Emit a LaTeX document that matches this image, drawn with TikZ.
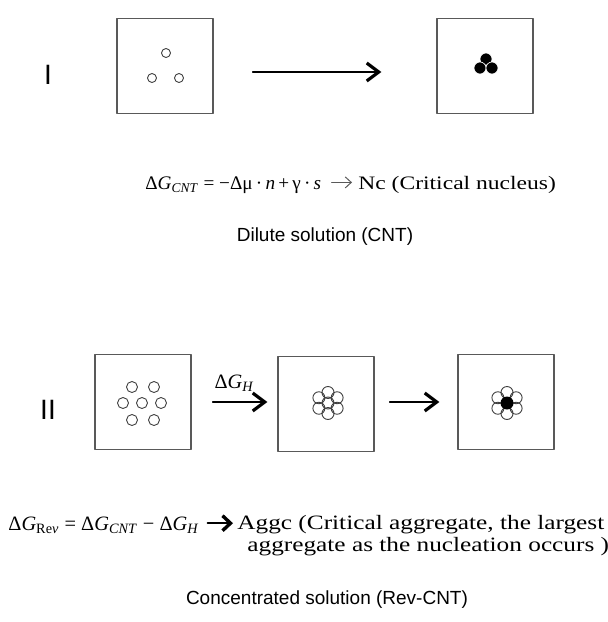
\documentclass[tikz,border=0pt]{standalone}
\usepackage{fontspec}
\setmainfont{Liberation Serif}
\setsansfont{Liberation Sans}
\newfontfamily\widefont[FakeStretch=1.24]{Liberation Serif}
\usetikzlibrary{arrows.meta}

\newcommand{\dG}[1]{Δ\textit{G}\textsubscript{#1}}

\begin{document}
\begin{tikzpicture}[x=0.5pt, y=-0.5pt, line cap=round, line join=round,
  box/.style={draw=black!65, line width=0.6pt, minimum width=48pt, minimum height=47.5pt, inner sep=0pt},
  flow/.style={line width=0.6pt, -{Straight Barb[length=6pt, width=9pt, line width=1.6pt]}},
  thinflow/.style={line width=0.4pt, black!65, -{Straight Barb[length=3pt, width=5.5pt, line width=0.5pt]}},
  boldflow/.style={line width=1.1pt, -{Straight Barb[length=4pt, width=7.5pt, line width=1.7pt]}},
  part/.style={draw=black!75, line width=0.45pt},
  roman/.style={font=\sffamily\fontsize{14}{14}\selectfont},
  eq/.style={font=\fontsize{10.2}{11}\selectfont, inner sep=0pt},
  eqsmall/.style={font=\fontsize{9.6}{11}\selectfont, inner sep=0pt},
  note/.style={font=\widefont\fontsize{9.5}{11}\selectfont, inner sep=0pt},
  notebig/.style={font=\widefont\fontsize{10.2}{11}\selectfont, inner sep=0pt},
  caption/.style={font=\sffamily\fontsize{9.5}{11}\selectfont}]

\useasboundingbox (0,0) rectangle (608,622);

% Row I: dilute solution
\node[roman] (labI) at (48,75) {I};
\node[box] (dilA) at (165,66) {};
\node[box] (dilB) at (485,66) {};
\draw[flow, shorten <=19.5pt, shorten >=27.5pt] ([yshift=-3pt]dilA.east) -- ([yshift=-3pt]dilB.west);

% free monomers
\foreach \p in {(166,53),(152,78),(179,78)}
  \draw[part] \p circle (4.5);
% critical nucleus
\foreach \p in {(486,59),(480,68),(492,68)}
  \filldraw[fill=black, draw=white, line width=0.3pt] \p circle (6);

% CNT equation
\node[eqsmall, anchor=base west] (cntEq) at (145,189)
  {\dG{\textit{CNT}} = −Δμ\,·\,\textit{n}\,+\,γ\,·\,\textit{s}};
\node[note, anchor=base west] (nuc) at (358,189) {Nc (Critical nucleus)};
\draw[thinflow, shorten <=5pt, shorten >=3pt] ([yshift=3.3pt]cntEq.base east) -- ([yshift=3.3pt]cntEq.base east -| nuc.west);

\node[caption] (dilCap) at (325,237) {Dilute solution (CNT)};

% Row II: concentrated solution
\node[roman] (labII) at (48,410) {II};
\node[box] (conA) at (143,402) {};
\node[box] (conB) at (326,404) {};
\node[box] (conC) at (506,402) {};

\draw[flow, shorten <=10.5pt, shorten >=5pt] (conA.east) -- (conA.east -| conB.west)
  node[midway, above=5pt, eq] (dGH) {\dG{\textit{H}}};
\draw[flow, shorten <=7.5pt, shorten >=9pt] (conB.east |- conA.east) -- (conA.east -| conC.west);

% dispersed monomers
\foreach \p in {(132,387),(154,387),(123,403),(142,403),(161,403),(132,420),(154,420)}
  \draw[part] \p circle (5.5);
% pre-aggregate
\foreach \a in {30,90,...,330}
  \draw[part] (328,403) ++(\a:10.5) circle (6);
\draw[part] (328,403) circle (6);
% critical aggregate with nucleus
\foreach \a in {30,90,...,330}
  \draw[part] (507,403) ++(\a:10.5) circle (6);
\fill (507,403) circle (6.5);

% Rev-CNT equation
\node[eq, anchor=base west] (revEq) at (8,530)
  {\dG{Re\textit{v}} = \dG{\textit{CNT}} − \dG{\textit{H}}};
\node[notebig, anchor=north west, align=left] (aggc) at (237,515)
  {Aggc (Critical aggregate, the largest\\\hspace{5pt}aggregate as the nucleation occurs )};
\draw[boldflow, shorten <=4pt, shorten >=2pt] ([yshift=3.4pt]revEq.base east) -- ([yshift=3.4pt]revEq.base east -| aggc.west);

\node[caption] (conCap) at (327,600) {Concentrated solution (Rev-CNT)};

\end{tikzpicture}
\end{document}
